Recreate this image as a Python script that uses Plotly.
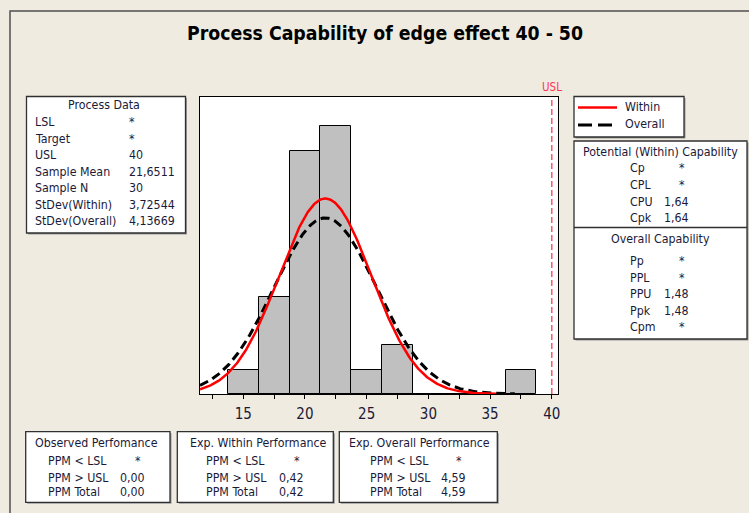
import numpy as np
import plotly.graph_objects as go

# ---------------- data ----------------
bin_centers = [15, 17.5, 20, 22.5, 25, 27.5, 30, 32.5, 35, 37.5]
bin_counts = [1, 4, 10, 11, 1, 2, 0, 0, 0, 1]
bin_width = 2.5
sample_mean = 21.6511
sample_n = 30
stdev_within = 3.72544
stdev_overall = 4.13669
usl = 40
x_ticks = [15, 20, 25, 30, 35, 40]

process_labels = ["LSL", "Target", "USL", "Sample Mean", "Sample N", "StDev(Within)", "StDev(Overall)"]
process_values = ["*", "*", "40", "21,6511", "30", "3,72544", "4,13669"]
within_labels = ["Cp", "CPL", "CPU", "Cpk"]
within_values = ["*", "*", "1,64", "1,64"]
overall_labels = ["Pp", "PPL", "PPU", "Ppk", "Cpm"]
overall_values = ["*", "*", "1,48", "1,48", "*"]
perf_labels = ["PPM < LSL", "PPM > USL", "PPM Total"]
observed_values = ["*", "0,00", "0,00"]
exp_within_values = ["*", "0,42", "0,42"]
exp_overall_values = ["*", "4,59", "4,59"]

# ---------------- layout helpers ----------------
W, H = 749, 513
L, T, R, B = 200, 97, 558, 394
def px(x):
    return (x - L) / (R - L)
def py(y):
    return (B - y) / (B - T)

FONT = "DejaVu Sans Condensed, DejaVu Sans, sans-serif"
TXT = "#1a1a38"
BG = "#EFEBE1"
TS = 12.3

fig = go.Figure()
fig.add_trace(go.Bar(
    x=bin_centers, y=bin_counts, width=bin_width,
    marker=dict(color="#C0C0C0", line=dict(color="black", width=1)),
    showlegend=False, hoverinfo="skip"))

scale = sample_n * bin_width
def normal_curve(sigma, x_end):
    xs = np.linspace(11.5, x_end, 300)
    ys = scale * np.exp(-0.5 * ((xs - sample_mean) / sigma) ** 2) / (sigma * np.sqrt(2 * np.pi))
    return xs, ys

xw, yw = normal_curve(stdev_within, 35.5)
xo, yo = normal_curve(stdev_overall, 37.0)
fig.add_trace(go.Scatter(x=xo, y=yo, mode="lines",
                         line=dict(color="black", width=3, dash="9px,5px"),
                         showlegend=False, hoverinfo="skip"))
fig.add_trace(go.Scatter(x=xw, y=yw, mode="lines",
                         line=dict(color="#FF0000", width=2.5),
                         showlegend=False, hoverinfo="skip"))

shapes = []
ann = []

# USL line
shapes.append(dict(type="line", xref="x", yref="paper", x0=usl, x1=usl, y0=0, y1=1,
                   line=dict(color="#FF2A40", width=1.2, dash="6px,3px")))
ann.append(dict(x=usl, y=py(87), xref="x", yref="paper", text="USL", showarrow=False,
                xanchor="center", yanchor="middle", font=dict(family=FONT, size=11.5, color="#FF3355")))

def box(x0, y0, x1, y1):
    shapes.append(dict(type="rect", xref="paper", yref="paper",
                       x0=px(x0 + 1.5), x1=px(x1 + 1.5), y0=py(y0 + 1.5), y1=py(y1 + 1.5),
                       line=dict(width=0), fillcolor="#9a9a9a"))
    shapes.append(dict(type="rect", xref="paper", yref="paper",
                       x0=px(x0), x1=px(x1), y0=py(y0), y1=py(y1),
                       line=dict(color="#303030", width=1.3), fillcolor="white"))

def text(x, y, s, anchor="left", size=TS, color=TXT, bold=False):
    if bold:
        s = "<b>" + s + "</b>"
    ann.append(dict(x=px(x), y=py(y), xref="paper", yref="paper", text=s, showarrow=False,
                    xanchor=anchor, yanchor="middle", font=dict(family=FONT, size=size, color=color)))

# outer frame
shapes.append(dict(type="rect", xref="paper", yref="paper", x0=px(10), x1=px(900),
                   y0=py(11), y1=py(700), line=dict(color="#505050", width=1.5)))

# title
text(385, 33, "Process Capability of edge effect 40 - 50", anchor="center", size=19.3, color="black", bold=True)

# Process data
box(26.5, 96.5, 185.5, 233)
text(103.5, 105, "Process Data", anchor="center")
for i, (lab, val) in enumerate(zip(process_labels, process_values)):
    y = 122.3 + i * 16.5
    text(33, y, lab)
    text(127, y, val)

# legend box
box(574, 96.5, 684, 137)
shapes.append(dict(type="line", xref="paper", yref="paper", x0=px(578), x1=px(617),
                   y0=py(107.5), y1=py(107.5), line=dict(color="#FF0000", width=2.5)))
shapes.append(dict(type="line", xref="paper", yref="paper", x0=px(578), x1=px(617),
                   y0=py(125), y1=py(125), line=dict(color="black", width=3, dash="14px,6px")))
text(623, 106.5, "Within")
text(623, 124.5, "Overall")

# capability box
box(574, 141, 747, 339)
shapes.append(dict(type="line", xref="paper", yref="paper", x0=px(574), x1=px(747),
                   y0=py(227.5), y1=py(227.5), line=dict(color="#303030", width=1.3)))
text(660, 151.5, "Potential (Within) Capability", anchor="center")
for i, (lab, val) in enumerate(zip(within_labels, within_values)):
    y = 168 + i * 16.8
    text(628, y, lab)
    text(691 if val != "*" else 687, y, val, anchor="right")
text(660, 239.3, "Overall Capability", anchor="center")
for i, (lab, val) in enumerate(zip(overall_labels, overall_values)):
    y = 261 + i * 16.6
    text(628, y, lab)
    text(691 if val != "*" else 687, y, val, anchor="right")

# performance boxes
perf = [
    ("Observed Perfomance", observed_values, 25.7, 170, 33.3, 46, 147.3),
    ("Exp. Within Performance", exp_within_values, 177.3, 333.3, 188.3, 204, 305.7),
    ("Exp. Overall Performance", exp_overall_values, 339.3, 497.3, 347.3, 368.3, 468.3),
]
row_y = [460.7, 478.3, 492.3]
for head, vals, x0, x1, hx, lx, vx in perf:
    box(x0, 431.7, x1, 502.3)
    text(hx, 442.7, head)
    for lab, val, y in zip(perf_labels, vals, row_y):
        text(lx, y, lab)
        text(vx if val != "*" else vx - 4, y, val, anchor="right")

fig.update_layout(
    width=W, height=H,
    margin=dict(l=L, r=W - R, t=T, b=H - B, pad=0),
    paper_bgcolor=BG, plot_bgcolor="white",
    bargap=0, showlegend=False,
    shapes=shapes, annotations=ann,
    xaxis=dict(range=[11.5, 40.5], tickvals=x_ticks, ticks="outside", ticklen=4,
               tickcolor="black", showgrid=False, zeroline=False,
               showline=True, linecolor="black", linewidth=1, mirror=True,
               ticklabelstandoff=2,
               tickfont=dict(family=FONT, size=15, color=TXT),
               minor=dict(dtick=2.5, tick0=0, ticks="outside", ticklen=4, tickcolor="black", showgrid=False)),
    yaxis=dict(range=[0, 12.2], showticklabels=False, ticks="", showgrid=False, zeroline=False,
               showline=True, linecolor="black", linewidth=1, mirror=True),
)
fig.write_html("out.html", config={"displayModeBar": False},
               post_script="document.body.style.margin='0px';document.body.style.padding='0px';"
                           "document.body.style.overflow='hidden';")
